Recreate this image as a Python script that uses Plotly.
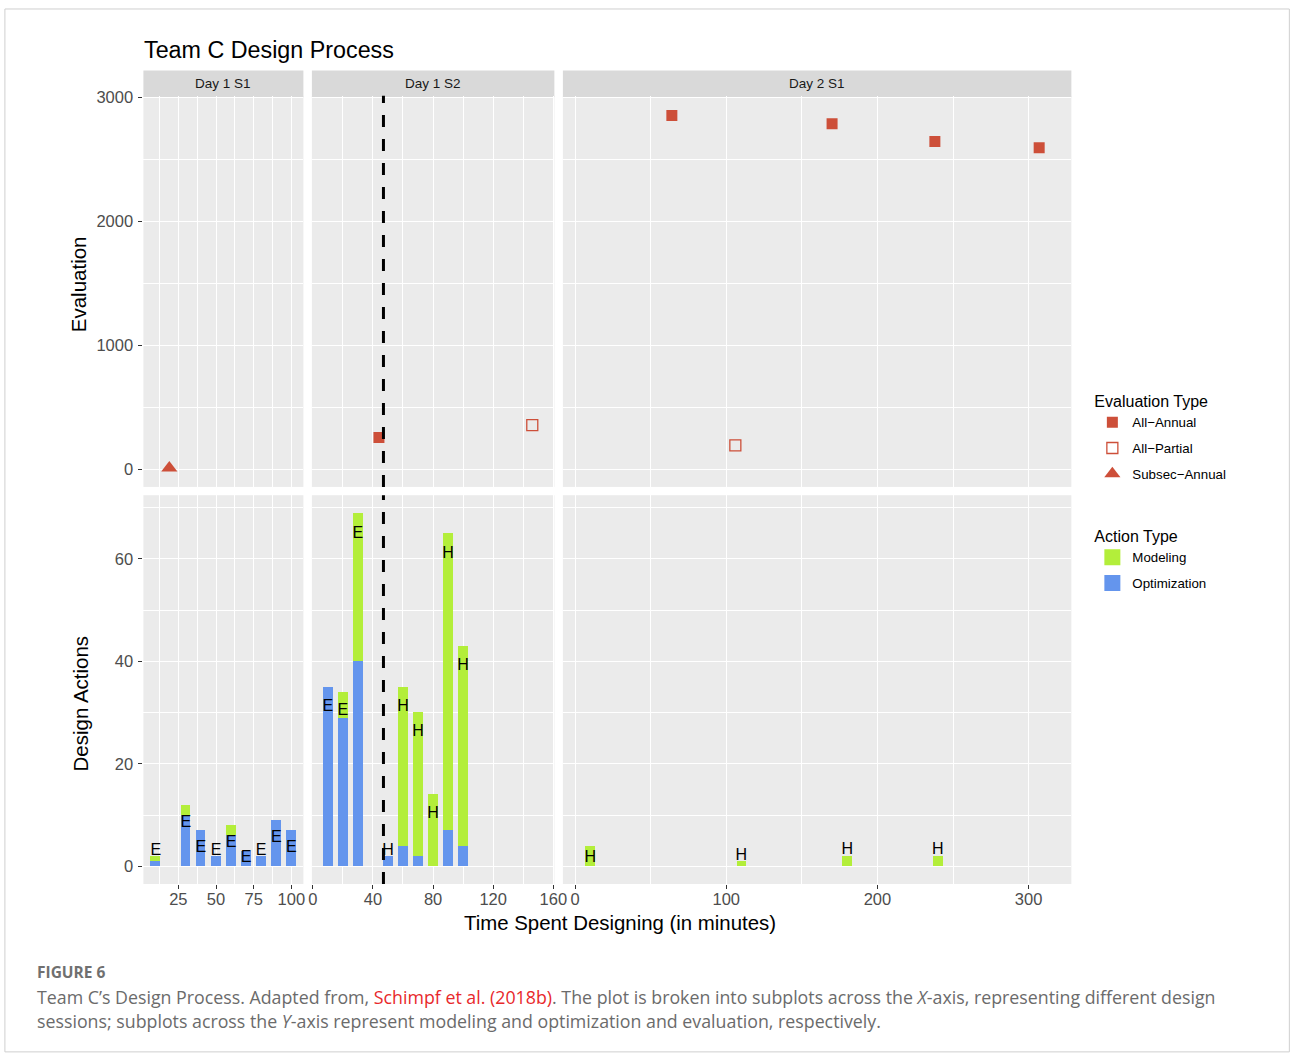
import plotly.graph_objects as go

# ---------------- data ----------------
sessions = ["Day 1 S1", "Day 1 S2", "Day 2 S1"]

# Design actions (stacked bars: Optimization bottom, Modeling top)
s1_x = [10, 30, 40, 50, 60, 70, 80, 90, 100]
s1_opt = [1, 10, 7, 2, 6, 3, 2, 9, 7]
s1_mod = [1, 2, 0, 0, 2, 0, 0, 0, 0]
s1_lab = ["E", "E", "E", "E", "E", "E", "E", "E", "E"]
s1_lab_y = [3, 8.5, 3.6, 2.9, 4.5, 1.7, 3, 5.5, 3.6]

s2_x = [10, 20, 30, 50, 60, 70, 80, 90, 100]
s2_opt = [35, 29, 40, 2, 4, 2, 0, 7, 4]
s2_mod = [0, 5, 29, 0, 31, 28, 14, 58, 39]
s2_lab = ["E", "E", "E", "H", "H", "H", "H", "H", "H"]
s2_lab_y = [31.1, 30.3, 64.8, 2.9, 31.1, 26.3, 10.3, 61, 39.2]

s3_x = [10, 110, 180, 240]
s3_opt = [0, 0, 0, 0]
s3_mod = [4, 1, 2, 2]
s3_lab = ["H", "H", "H", "H"]
s3_lab_y = [1.6, 2, 3.1, 3.1]

# Evaluations
subsec_annual_s1_x = [19]
subsec_annual_s1_y = [10]
all_annual_s2_x = [44]
all_annual_s2_y = [256]
all_partial_s2_x = [146]
all_partial_s2_y = [355]
all_annual_s3_x = [64, 170, 238, 307]
all_annual_s3_y = [2855, 2788, 2645, 2594]
all_partial_s3_x = [106]
all_partial_s3_y = [193]

break_x = 47  # dashed marker in Day 1 S2

x_ranges = [[1.8, 108], [-0.6, 160.7], [-8.1, 328.3]]
x_major = [[25, 50, 75, 100], [0, 40, 80, 120, 160], [0, 100, 200, 300]]
x_minor = [[12.5, 37.5, 62.5, 87.5], [20, 60, 100, 140], [50, 150, 250]]
y_top_range = [-143, 3013]
y_top_major = [0, 1000, 2000, 3000]
y_top_minor = [500, 1500, 2500]
y_bot_range = [-3.45, 72.45]
y_bot_major = [0, 20, 40, 60]
y_bot_minor = [10, 30, 50, 70]

# ---------------- styling / layout helpers ----------------
W, H = 1304, 1055
SX, AX = 0.987, 3.6
SY, AY = 0.993, 7.5
def px(x):
    return ((x - AX) / SX) / W
def py(y):
    return 1 - ((y - AY) / SY) / H

col_px = [(143, 303), (311.5, 554), (562.5, 1071)]
row_top_px = (95.4, 486.7)
row_bot_px = (495, 884)

RED = "#CD4F39"
GREEN = "#B3EE3A"
BLUE = "#6495ED"
FONT = "Liberation Sans, Arial, sans-serif"

fig = go.Figure()

def axname(i, kind):
    return kind if i == 1 else f"{kind}{i}"

def axref(i, kind):
    return kind if i == 1 else f"{kind}{i}"

layout = {}
for c in range(3):
    for r in range(2):
        i = c + 1 + 3 * r
        xa = dict(
            domain=[px(col_px[c][0]), px(col_px[c][1])],
            range=x_ranges[c], anchor=axref(i, "y"),
            tickmode="array", tickvals=x_major[c],
            showgrid=True, gridcolor="white", gridwidth=1.2, zeroline=False,
            minor=dict(tickvals=x_minor[c], showgrid=True, gridcolor="white", gridwidth=0.6, ticks=""),
            showline=False, tickfont=dict(family=FONT, size=16.5, color="#4D4D4D"),
        )
        if r == 1:
            xa.update(ticks="outside", ticklen=4, tickwidth=1.1, tickcolor="#333333",
                      showticklabels=True, ticklabelstandoff=-4)
        else:
            xa.update(ticks="", showticklabels=False)
        rp = row_top_px if r == 0 else row_bot_px
        ya = dict(
            domain=[py(rp[1]), py(rp[0])],
            range=y_top_range if r == 0 else y_bot_range,
            anchor=axref(i, "x"),
            tickmode="array", tickvals=y_top_major if r == 0 else y_bot_major,
            showgrid=True, gridcolor="white", gridwidth=1.2, zeroline=False,
            minor=dict(tickvals=y_top_minor if r == 0 else y_bot_minor, showgrid=True,
                       gridcolor="white", gridwidth=0.6, ticks=""),
            showline=False, tickfont=dict(family=FONT, size=16.5, color="#4D4D4D"),
        )
        if c == 0:
            ya.update(ticks="outside", ticklen=4, tickwidth=1.1, tickcolor="#333333",
                      showticklabels=True, ticklabelstandoff=2)
        else:
            ya.update(ticks="", showticklabels=False)
        layout[axname(i, "xaxis")] = xa
        layout[axname(i, "yaxis")] = ya

# ---------------- traces ----------------
bar_sets = [(s1_x, s1_opt, s1_mod, s1_lab, s1_lab_y),
            (s2_x, s2_opt, s2_mod, s2_lab, s2_lab_y),
            (s3_x, s3_opt, s3_mod, s3_lab, s3_lab_y)]
for c, (bx, bo, bm, bl, bly) in enumerate(bar_sets):
    i = c + 4
    fig.add_trace(go.Bar(x=bx, y=bo, width=6.5, marker=dict(color=BLUE, line=dict(width=0)),
                         name="Optimization", legendgroup="opt", showlegend=False,
                         xaxis=axref(i, "x"), yaxis=axref(i, "y")))
    fig.add_trace(go.Bar(x=bx, y=bm, width=6.5, marker=dict(color=GREEN, line=dict(width=0)),
                         name="Modeling", legendgroup="mod", showlegend=False,
                         xaxis=axref(i, "x"), yaxis=axref(i, "y")))
    fig.add_trace(go.Scatter(x=bx, y=bly, text=bl, mode="text", showlegend=False,
                             textfont=dict(family=FONT, size=16, color="black"),
                             cliponaxis=False, hoverinfo="skip",
                             xaxis=axref(i, "x"), yaxis=axref(i, "y")))

# legend keys for the action types (larger square swatches, as in the original)
fig.add_trace(go.Scatter(x=[None], y=[None], mode="markers",
                         marker=dict(symbol="square", size=22, color=GREEN),
                         name="Modeling", legendgroup="mod", legend="legend2", legendrank=1,
                         xaxis="x4", yaxis="y4"))
fig.add_trace(go.Scatter(x=[None], y=[None], mode="markers",
                         marker=dict(symbol="square", size=22, color=BLUE),
                         name="Optimization", legendgroup="opt", legend="legend2", legendrank=2,
                         xaxis="x4", yaxis="y4"))

fig.add_trace(go.Scatter(x=all_annual_s2_x, y=all_annual_s2_y, mode="markers",
                         marker=dict(symbol="square", size=11, color=RED),
                         name="All\u2212Annual", legendgroup="aa", showlegend=True, legendrank=1,
                         xaxis="x2", yaxis="y2"))
fig.add_trace(go.Scatter(x=all_annual_s3_x, y=all_annual_s3_y, mode="markers",
                         marker=dict(symbol="square", size=11, color=RED),
                         name="All\u2212Annual", legendgroup="aa", showlegend=False,
                         xaxis="x3", yaxis="y3"))
fig.add_trace(go.Scatter(x=all_partial_s2_x, y=all_partial_s2_y, mode="markers",
                         marker=dict(symbol="square-open", size=11, color=RED, line=dict(width=1.3, color=RED)),
                         name="All\u2212Partial", legendgroup="ap", showlegend=True, legendrank=2,
                         xaxis="x2", yaxis="y2"))
fig.add_trace(go.Scatter(x=all_partial_s3_x, y=all_partial_s3_y, mode="markers",
                         marker=dict(symbol="square-open", size=11, color=RED, line=dict(width=1.3, color=RED)),
                         name="All\u2212Partial", legendgroup="ap", showlegend=False,
                         xaxis="x3", yaxis="y3"))
fig.add_trace(go.Scatter(x=subsec_annual_s1_x, y=subsec_annual_s1_y, mode="markers",
                         marker=dict(symbol="triangle-up", size=14, color=RED),
                         name="Subsec\u2212Annual", legendgroup="sa", showlegend=True, legendrank=3,
                         xaxis="x", yaxis="y"))

# ---------------- shapes ----------------
shapes = []
shapes.append(dict(type="rect", xref="paper", yref="paper", x0=px(4.5), x1=px(1289), y0=py(1052), y1=py(8.5),
                   line=dict(color="#cfcfcf", width=1), fillcolor="rgba(0,0,0,0)", layer="below"))
for c in range(3):
    shapes.append(dict(type="rect", xref="paper", yref="paper",
                       x0=px(col_px[c][0]), x1=px(col_px[c][1]), y0=py(96.5), y1=py(70),
                       line=dict(width=0), fillcolor="#D9D9D9", layer="below"))
for xr, yr in (("x2", "y2 domain"), ("x5", "y5 domain")):
    shapes.append(dict(type="line", xref=xr, yref=yr, x0=break_x, x1=break_x, y0=0, y1=1,
                       line=dict(color="black", width=3, dash="12px,12px")))

# ---------------- annotations ----------------
ann = []
for c in range(3):
    ann.append(dict(text=sessions[c], xref="paper", yref="paper",
                    x=px((col_px[c][0] + col_px[c][1]) / 2), y=py(83.3),
                    xanchor="center", yanchor="middle", showarrow=False,
                    font=dict(family=FONT, size=13.5, color="#1A1A1A")))
ann.append(dict(text="Team C Design Process", xref="paper", yref="paper", x=px(142), y=py(50),
                xanchor="left", yanchor="middle", showarrow=False,
                font=dict(family=FONT, size=23.3, color="black")))
ann.append(dict(text="Evaluation", xref="paper", yref="paper", x=px(78), y=py(283.5), textangle=-90,
                xanchor="center", yanchor="middle", showarrow=False,
                font=dict(family=FONT, size=20.5, color="black")))
ann.append(dict(text="Design Actions", xref="paper", yref="paper", x=px(80), y=py(703), textangle=-90,
                xanchor="center", yanchor="middle", showarrow=False,
                font=dict(family=FONT, size=20.5, color="black")))
ann.append(dict(text="Time Spent Designing (in minutes)", xref="paper", yref="paper", x=px(619.5), y=py(923),
                xanchor="center", yanchor="middle", showarrow=False,
                font=dict(family=FONT, size=20.4, color="black")))
CAP = "Open Sans, Noto Sans, sans-serif"
ann.append(dict(text="<b>FIGURE 6</b>", xref="paper", yref="paper", x=px(35), y=py(972),
                xanchor="left", yanchor="middle", showarrow=False,
                font=dict(family=CAP, size=15.5, color="#707070")))
ann.append(dict(text="Team C\u2019s Design Process. Adapted from, <span style='color:#E8282B'>Schimpf et al. (2018b)</span>. "
                     "The plot is broken into subplots across the <i>X</i>-axis, representing different design",
                xref="paper", yref="paper", x=px(35), y=py(997),
                xanchor="left", yanchor="middle", showarrow=False,
                font=dict(family=CAP, size=17.8, color="#6b6b6b")))
ann.append(dict(text="sessions; subplots across the <i>Y</i>-axis represent modeling and optimization and evaluation, respectively.",
                xref="paper", yref="paper", x=px(35), y=py(1021),
                xanchor="left", yanchor="middle", showarrow=False,
                font=dict(family=CAP, size=17.8, color="#6b6b6b")))

fig.update_layout(
    width=W, height=H, margin=dict(l=0, r=0, t=0, b=0),
    paper_bgcolor="white", plot_bgcolor="#EBEBEB",
    barmode="stack", bargap=0,
    shapes=shapes, annotations=ann,
    showlegend=True,
    legend=dict(x=px(1092), y=py(386), xanchor="left", yanchor="top",
                title=dict(text="Evaluation Type", font=dict(family=FONT, size=16, color="black")),
                font=dict(family=FONT, size=13.3, color="black"), bgcolor="rgba(0,0,0,0)",
                traceorder="grouped", tracegroupgap=5.5),
    legend2=dict(x=px(1092), y=py(521), xanchor="left", yanchor="top",
                 title=dict(text="Action Type", font=dict(family=FONT, size=16, color="black")),
                 font=dict(family=FONT, size=13.3, color="black"), bgcolor="rgba(0,0,0,0)",
                 traceorder="grouped", tracegroupgap=5.5),
    **layout,
)

fig.write_html(
    "out.html",
    config={"displayModeBar": False},
    post_script="document.body.style.margin='0';document.body.style.overflow='hidden';",
)
